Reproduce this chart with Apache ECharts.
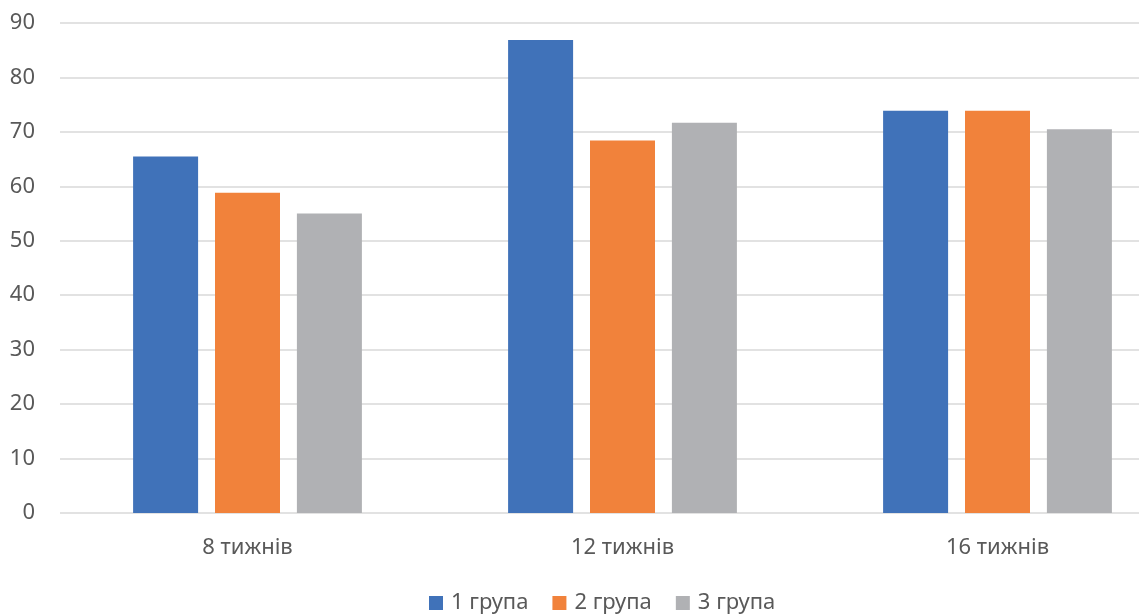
<!DOCTYPE html>
<html>
<head>
<meta charset="utf-8">
<script src="https://cdn.jsdelivr.net/npm/echarts@6/dist/echarts.min.js"></script>
<style>
  html, body { margin: 0; padding: 0; background: #ffffff; }
  #chart { width: 1139px; height: 614px; }
</style>
</head>
<body>
<div id="chart"></div>
<script>
// Periods of observation
const categories = ['8 тижнів', '12 тижнів', '16 тижнів'];
// Group names
const groupNames = ['1 група', '2 група', '3 група'];
// Values per group
const group1 = [65.5, 86.9, 73.9];
const group2 = [58.8, 68.4, 73.9];
const group3 = [55.0, 71.7, 70.5];
const groupColors = ['#4072B9', '#F1823B', '#B0B1B4'];

const FONT = 'Noto Sans, DejaVu Sans, sans-serif';
const chart = echarts.init(document.getElementById('chart'), null, { renderer: 'canvas' });

const series = [group1, group2, group3].map((vals, i) => ({
  name: groupNames[i],
  type: 'bar',
  data: vals,
  barWidth: 65,
  barGap: '26%',
  itemStyle: { color: groupColors[i] }
}));

chart.setOption({
  animation: false,
  textStyle: { fontFamily: FONT },
  // the plot runs past the right edge of the canvas
  grid: { left: 60, width: 1125, top: 23, bottom: 101, containLabel: false, outerBoundsMode: 'none' },
  legend: {
    data: groupNames,
    bottom: -5,
    left: 424,
    itemWidth: 14,
    itemHeight: 14,
    itemGap: 24,
    icon: 'rect',
    textStyle: { color: '#595959', fontSize: 22, fontFamily: FONT, padding: [0, 0, 0, 3] }
  },
  xAxis: {
    type: 'category',
    data: categories,
    axisLine: { show: false },
    axisTick: { show: false },
    axisLabel: { color: '#595959', fontSize: 22, margin: 24, fontFamily: FONT }
  },
  yAxis: {
    type: 'value',
    min: 0,
    max: 90,
    interval: 10,
    axisLine: { show: false },
    axisTick: { show: false },
    axisLabel: { color: '#595959', fontSize: 22, margin: 25, fontFamily: FONT },
    splitLine: { lineStyle: { color: '#D9D9D9', width: 1.5 } }
  },
  series: series
});
</script>
</body>
</html>
